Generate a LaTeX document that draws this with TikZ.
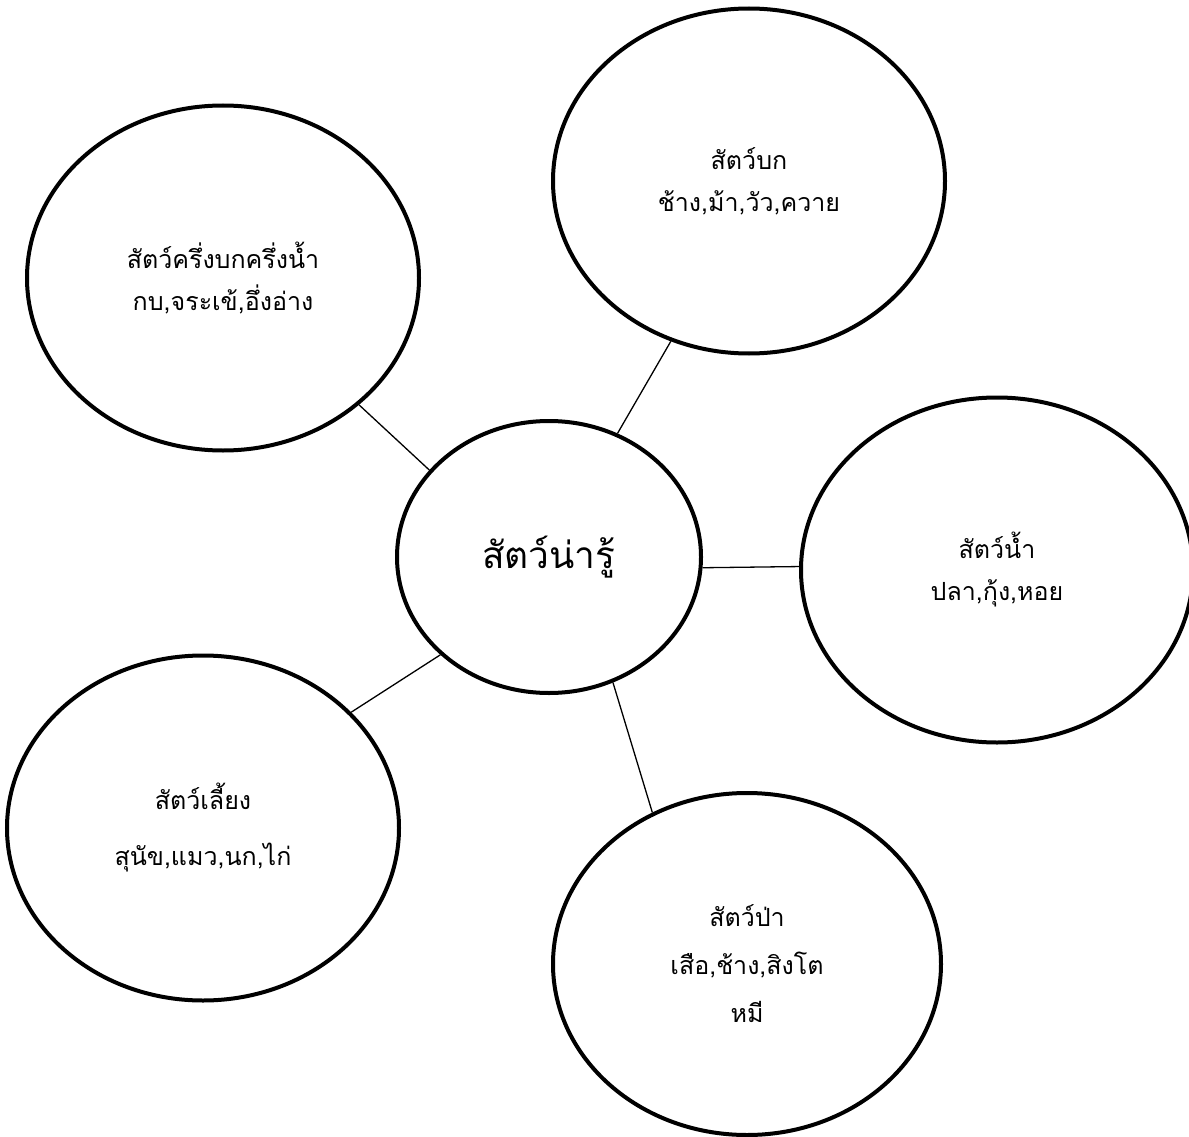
\documentclass[tikz,border=0pt]{standalone}
\usepackage{fontspec}
\newfontfamily\thaifont[Script=Thai]{Loma}
\usetikzlibrary{shapes.geometric}

\begin{document}
\begin{tikzpicture}[x=1pt,y=-1pt,
    bubble/.style={ellipse,draw,line width=4pt,inner sep=0pt,align=center,
      minimum width=392pt,minimum height=345pt,
      font=\thaifont\fontsize{25}{42}\selectfont},
    link/.style={line width=1.3pt}]
    \useasboundingbox (0,0) rectangle (1189,1137);

    % Hub
    \node[bubble,minimum width=304pt,minimum height=272pt,
      font=\thaifont\fontsize{37}{50}\selectfont] (hub) at (549,557) {สัตว์น่ารู้};

    % Groups
    \node[bubble] (amph) at (223,278) {สัตว์ครึ่งบกครึ่งน้ำ\\กบ,จระเข้,อึ่งอ่าง};
    \node[bubble] (land) at (749,181) {สัตว์บก\\ช้าง,ม้า,วัว,ควาย};
    \node[bubble] (water) at (997,570) {สัตว์น้ำ\\ปลา,กุ้ง,หอย};
    \node[bubble] (pets) at (203,828) {สัตว์เลี้ยง\\[14pt]สุนัข,แมว,นก,ไก่};
    \node[bubble,minimum width=388pt,minimum height=342pt] (wild) at (747,964)
      {สัตว์ป่า\\[6pt]เสือ,ช้าง,สิงโต\\[6pt]หมี};

    % Links
    \draw[link] (hub.144) -- (amph.-43);
    \draw[link] (hub.61) -- (land.-116);
    \draw[link] (hub.-4) -- (water.179);
    \draw[link] (hub.222) -- (pets.38);
    \draw[link] (hub.-63) -- (wild.122);
\end{tikzpicture}
\end{document}
